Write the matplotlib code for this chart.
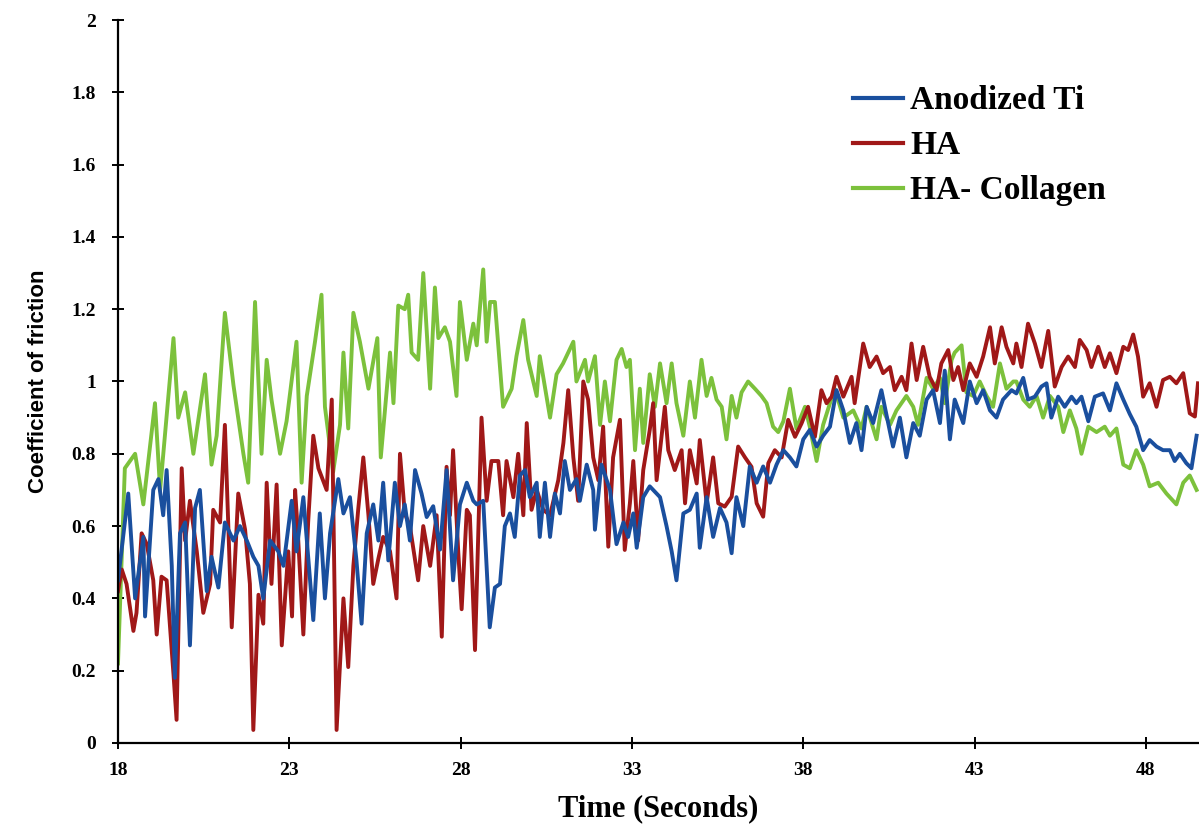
import matplotlib.pyplot as plt
from matplotlib.lines import Line2D

plt.rcParams['font.family'] = ['Liberation Serif', 'DejaVu Serif']

# HA- Collagen (green)
t_col = [18.0, 18.2, 18.5, 18.74, 19.08, 19.23, 19.62, 19.76, 19.96, 20.2, 20.54, 20.73, 20.88,
         21.12, 21.37, 21.66, 21.8, 22.0, 22.19, 22.34, 22.48, 22.73, 22.92, 23.21, 23.36, 23.51,
         23.75, 23.94, 24.04, 24.28, 24.48, 24.58, 24.72, 24.87, 25.06, 25.31, 25.57, 25.67, 25.94,
         26.04, 26.18, 26.37, 26.47, 26.57, 26.76, 26.91, 27.11, 27.25, 27.35, 27.54, 27.69, 27.88,
         27.98, 28.18, 28.37, 28.47, 28.66, 28.76, 28.86, 29.0, 29.24, 29.49, 29.63, 29.83, 29.97,
         30.22, 30.31, 30.61, 30.8, 30.99, 31.29, 31.38, 31.63, 31.72, 31.92, 32.07, 32.21, 32.36,
         32.55, 32.7, 32.84, 32.94, 33.09, 33.23, 33.33, 33.52, 33.67, 33.82, 34.01, 34.16, 34.3,
         34.5, 34.69, 34.84, 35.03, 35.18, 35.32, 35.47, 35.62, 35.76, 35.91, 36.05, 36.2, 36.39,
         36.59, 36.78, 36.93, 37.12, 37.27, 37.42, 37.61, 37.8, 38.05, 38.19, 38.39, 38.58, 38.78,
         38.92, 39.17, 39.46, 39.7, 39.85, 40.14, 40.28, 40.53, 40.72, 41.01, 41.21, 41.35, 41.6,
         41.79, 41.99, 42.13, 42.33, 42.42, 42.62, 42.76, 42.96, 43.15, 43.35, 43.54, 43.74, 43.93,
         44.13, 44.22, 44.42, 44.61, 44.81, 45.0, 45.2, 45.44, 45.59, 45.78, 45.97, 46.12, 46.32,
         46.56, 46.8, 46.95, 47.14, 47.34, 47.53, 47.72, 47.92, 48.11, 48.36, 48.6, 48.89, 49.09,
         49.28, 49.48]
cof_col = [0.22, 0.76, 0.80, 0.66, 0.94, 0.70, 1.12, 0.90, 0.97, 0.80, 1.02, 0.77, 0.85,
           1.19, 0.99, 0.80, 0.72, 1.22, 0.80, 1.06, 0.95, 0.80, 0.89, 1.11, 0.72, 0.96,
           1.11, 1.24, 0.93, 0.75, 0.88, 1.08, 0.87, 1.19, 1.11, 0.98, 1.12, 0.79, 1.08,
           0.94, 1.21, 1.20, 1.24, 1.08, 1.06, 1.30, 0.98, 1.26, 1.12, 1.15, 1.11, 0.96,
           1.22, 1.06, 1.16, 1.10, 1.31, 1.11, 1.22, 1.22, 0.93, 0.98, 1.07, 1.17, 1.06,
           0.96, 1.07, 0.90, 1.02, 1.05, 1.11, 1.00, 1.06, 1.00, 1.07, 0.88, 1.00, 0.89,
           1.06, 1.09, 1.04, 1.06, 0.81, 0.98, 0.83, 1.02, 0.93, 1.05, 0.94, 1.05, 0.94,
           0.85, 1.00, 0.90, 1.06, 0.96, 1.01, 0.95, 0.93, 0.84, 0.96, 0.90, 0.97, 1.00,
           0.98, 0.96, 0.94, 0.875, 0.86, 0.89, 0.98, 0.87, 0.93, 0.875, 0.78, 0.88, 0.94,
           0.98, 0.90, 0.92, 0.87, 0.93, 0.84, 0.93, 0.88, 0.92, 0.96, 0.93, 0.88, 1.01,
           0.98, 1.01, 0.94, 1.06, 1.08, 1.10, 0.97, 0.96, 1.00, 0.96, 0.93, 1.05, 0.98,
           1.00, 1.00, 0.95, 0.93, 0.96, 0.90, 0.96, 0.93, 0.86, 0.92, 0.87, 0.80, 0.875,
           0.86, 0.875, 0.85, 0.87, 0.77, 0.76, 0.81, 0.77, 0.71, 0.72, 0.69, 0.66, 0.72,
           0.74, 0.70]

# HA (red)
t_ha = [18.0, 18.11, 18.25, 18.45, 18.54, 18.69, 18.84, 19.03, 19.13, 19.27, 19.42, 19.62, 19.71,
        19.81, 19.86, 19.96, 20.1, 20.3, 20.49, 20.69, 20.78, 20.98, 21.12, 21.32, 21.51, 21.71,
        21.85, 21.95, 22.1, 22.24, 22.34, 22.48, 22.63, 22.78, 22.97, 23.08, 23.17, 23.25, 23.41,
        23.55, 23.7, 23.85, 24.09, 24.24, 24.38, 24.58, 24.72, 24.87, 25.01, 25.16, 25.31, 25.45,
        25.6, 25.74, 25.94, 26.13, 26.23, 26.37, 26.52, 26.76, 26.91, 27.11, 27.3, 27.45, 27.59,
        27.69, 27.78, 27.93, 28.03, 28.18, 28.27, 28.42, 28.61, 28.76, 28.9, 29.1, 29.24, 29.34,
        29.54, 29.68, 29.83, 29.93, 30.07, 30.22, 30.41, 30.61, 30.85, 31.0, 31.14, 31.29, 31.43,
        31.58, 31.72, 31.87, 32.02, 32.16, 32.31, 32.45, 32.65, 32.79, 32.94, 33.04, 33.18, 33.33,
        33.52, 33.62, 33.72, 33.82, 33.96, 34.06, 34.25, 34.45, 34.55, 34.69, 34.89, 34.98, 35.18,
        35.37, 35.52, 35.71, 35.91, 36.1, 36.3, 36.49, 36.64, 36.83, 36.98, 37.17, 37.37, 37.56,
        37.76, 37.95, 38.14, 38.34, 38.53, 38.68, 38.83, 38.97, 39.17, 39.41, 39.5, 39.75, 39.94,
        40.14, 40.33, 40.53, 40.67, 40.87, 41.01, 41.16, 41.31, 41.5, 41.69, 41.89, 42.03, 42.23,
        42.38, 42.52, 42.67, 42.86, 43.06, 43.25, 43.45, 43.59, 43.79, 43.93, 44.13, 44.22, 44.37,
        44.56, 44.76, 44.95, 45.15, 45.34, 45.54, 45.73, 45.93, 46.07, 46.27, 46.41, 46.61, 46.8,
        46.95, 47.14, 47.34, 47.48, 47.63, 47.77, 47.92, 48.11, 48.31, 48.5, 48.7, 48.89, 49.09,
        49.28, 49.43, 49.52]
cof_ha = [0.42, 0.48, 0.44, 0.31, 0.36, 0.58, 0.55, 0.45, 0.30, 0.46, 0.45, 0.19, 0.064,
          0.53, 0.76, 0.56, 0.67, 0.53, 0.36, 0.44, 0.645, 0.61, 0.88, 0.32, 0.69, 0.59,
          0.44, 0.036, 0.41, 0.33, 0.72, 0.44, 0.715, 0.27, 0.53, 0.35, 0.70, 0.58, 0.30,
          0.61, 0.85, 0.76, 0.70, 0.95, 0.036, 0.40, 0.21, 0.49, 0.645, 0.79, 0.63, 0.44,
          0.51, 0.57, 0.53, 0.40, 0.80, 0.635, 0.60, 0.45, 0.60, 0.49, 0.63, 0.294, 0.764,
          0.63, 0.81, 0.53, 0.37, 0.645, 0.63, 0.257, 0.90, 0.67, 0.78, 0.78, 0.63, 0.78,
          0.68, 0.80, 0.63, 0.885, 0.645, 0.70, 0.645, 0.63, 0.727, 0.83, 0.976, 0.79, 0.67,
          1.00, 0.95, 0.79, 0.727, 0.875, 0.543, 0.79, 0.894, 0.534, 0.663, 0.78, 0.56, 0.755,
          0.866, 0.94, 0.727, 0.81, 0.93, 0.81, 0.755, 0.81, 0.663, 0.81, 0.718, 0.838, 0.663,
          0.79, 0.663, 0.654, 0.681, 0.82, 0.79, 0.764, 0.663, 0.626, 0.774, 0.81, 0.79, 0.894,
          0.847, 0.884, 0.93, 0.847, 0.976, 0.94, 0.958, 1.013, 0.958, 1.013, 0.94, 1.105, 1.04,
          1.069, 1.023, 1.04, 0.976, 1.013, 0.976, 1.105, 1.004, 1.096, 1.013, 0.976, 1.05, 1.087,
          1.004, 1.04, 0.976, 1.05, 1.013, 1.069, 1.15, 1.05, 1.15, 1.096, 1.05, 1.105, 1.04,
          1.16, 1.105, 1.04, 1.14, 0.986, 1.04, 1.069, 1.04, 1.115, 1.087, 1.04, 1.096, 1.04,
          1.078, 1.023, 1.096, 1.087, 1.13, 1.069, 0.958, 0.995, 0.93, 1.004, 1.013, 0.995, 1.023,
          0.912, 0.903, 0.995]

# Anodized Ti (blue)
t_ti = [18.0, 18.3, 18.5, 18.74, 18.79, 19.03, 19.18, 19.32, 19.42, 19.57, 19.66, 19.81, 19.96,
        20.1, 20.25, 20.39, 20.59, 20.73, 20.93, 21.12, 21.37, 21.56, 21.76, 21.95, 22.1, 22.24,
        22.44, 22.68, 22.83, 23.07, 23.21, 23.41, 23.7, 23.89, 24.04, 24.19, 24.43, 24.58, 24.77,
        24.96, 25.11, 25.26, 25.45, 25.6, 25.74, 25.89, 26.08, 26.23, 26.37, 26.52, 26.67, 26.86,
        27.01, 27.2, 27.4, 27.59, 27.78, 27.98, 28.18, 28.37, 28.47, 28.66, 28.85, 29.0, 29.15,
        29.29, 29.44, 29.58, 29.73, 29.88, 30.02, 30.22, 30.31, 30.46, 30.61, 30.75, 30.9, 31.04,
        31.19, 31.38, 31.48, 31.68, 31.87, 31.92, 32.11, 32.36, 32.55, 32.75, 32.89, 33.04, 33.14,
        33.33, 33.52, 33.82, 34.01, 34.16, 34.3, 34.5, 34.69, 34.89, 34.98, 35.18, 35.37, 35.57,
        35.76, 35.91, 36.05, 36.25, 36.44, 36.64, 36.83, 37.03, 37.22, 37.42, 37.61, 37.8, 38.0,
        38.19, 38.39, 38.58, 38.78, 38.97, 39.17, 39.36, 39.55, 39.7, 39.85, 40.04, 40.28, 40.48,
        40.62, 40.82, 41.01, 41.21, 41.4, 41.6, 41.79, 41.99, 42.13, 42.28, 42.42, 42.67, 42.86,
        43.06, 43.25, 43.45, 43.64, 43.83, 44.08, 44.22, 44.42, 44.56, 44.76, 44.95, 45.1, 45.24,
        45.44, 45.63, 45.83, 45.97, 46.12, 46.32, 46.51, 46.75, 46.95, 47.14, 47.34, 47.53, 47.72,
        47.92, 48.11, 48.31, 48.5, 48.7, 48.84, 48.99, 49.18, 49.33, 49.48]
cof_ti = [0.45, 0.69, 0.40, 0.57, 0.35, 0.70, 0.73, 0.63, 0.755, 0.49, 0.18, 0.58, 0.61,
          0.27, 0.65, 0.70, 0.42, 0.515, 0.43, 0.61, 0.56, 0.60, 0.56, 0.515, 0.49, 0.40,
          0.56, 0.53, 0.49, 0.67, 0.53, 0.68, 0.34, 0.635, 0.40, 0.58, 0.73, 0.635, 0.68,
          0.505, 0.33, 0.58, 0.66, 0.56, 0.72, 0.505, 0.72, 0.60, 0.66, 0.56, 0.755, 0.69,
          0.625, 0.655, 0.535, 0.755, 0.45, 0.66, 0.72, 0.67, 0.66, 0.67, 0.32, 0.43, 0.44,
          0.60, 0.635, 0.57, 0.74, 0.755, 0.68, 0.72, 0.57, 0.72, 0.57, 0.69, 0.635, 0.78,
          0.70, 0.73, 0.67, 0.77, 0.70, 0.59, 0.77, 0.70, 0.55, 0.61, 0.57, 0.635, 0.54,
          0.68, 0.71, 0.68, 0.60, 0.53, 0.45, 0.635, 0.645, 0.69, 0.54, 0.68, 0.57, 0.65,
          0.61, 0.525, 0.68, 0.60, 0.765, 0.72, 0.765, 0.72, 0.77, 0.81, 0.79, 0.765, 0.84,
          0.866, 0.82, 0.85, 0.875, 0.976, 0.92, 0.83, 0.885, 0.81, 0.93, 0.885, 0.976, 0.885,
          0.82, 0.90, 0.79, 0.885, 0.85, 0.95, 0.976, 0.885, 1.03, 0.84, 0.95, 0.885, 1.00,
          0.94, 0.976, 0.92, 0.90, 0.95, 0.976, 0.967, 1.01, 0.95, 0.958, 0.986, 0.995, 0.90,
          0.958, 0.93, 0.958, 0.94, 0.958, 0.89, 0.958, 0.967, 0.92, 0.995, 0.95, 0.91, 0.875,
          0.81, 0.838, 0.82, 0.81, 0.81, 0.78, 0.80, 0.774, 0.76, 0.85]

labels = ['Anodized Ti', 'HA', 'HA- Collagen']
colors = ['#1a4f9e', '#a01818', '#7cc13c']
x_ticks = [18, 23, 28, 33, 38, 43, 48]
y_ticks = [0, 0.2, 0.4, 0.6, 0.8, 1, 1.2, 1.4, 1.6, 1.8, 2]

fig = plt.figure(figsize=(11.99, 8.27), dpi=100)
ax = fig.add_axes([0.0984, 0.1016, 0.9016, 0.8742])

ax.plot(t_col, cof_col, color=colors[2], lw=2.8)
ax.plot(t_ha, cof_ha, color=colors[1], lw=2.8)
ax.plot(t_ti, cof_ti, color=colors[0], lw=2.8)

ax.set_xlim(18, 49.55)
ax.set_ylim(0, 2)
ax.set_xticks(x_ticks)
ax.set_yticks(y_ticks)
ax.set_yticklabels(['{:g}'.format(v) for v in y_ticks])

for s in ['top', 'right']:
    ax.spines[s].set_visible(False)
for s in ['left', 'bottom']:
    ax.spines[s].set_linewidth(1.6)
ax.tick_params(axis='both', direction='inout', length=8, width=1.4, labelsize=14)
ax.tick_params(axis='x', pad=10)
ax.tick_params(axis='y', pad=12)
for lab in ax.get_xticklabels() + ax.get_yticklabels():
    lab.set_fontweight('bold')

ax.set_xlabel('Time (Seconds)', fontsize=22, fontweight='bold', labelpad=11)
ax.set_ylabel('Coefficient of friction', fontsize=16, fontweight='bold', labelpad=16,
              family=['Liberation Sans', 'DejaVu Sans'])

handles = [Line2D([], [], color=c, lw=3) for c in colors]
ax.legend(handles, labels, loc='upper left', bbox_to_anchor=(0.668, 0.928), frameon=False,
          prop={'size': 24, 'weight': 'bold'}, handlelength=1.5, handletextpad=0.2,
          labelspacing=0.42, borderaxespad=0)

fig.savefig('out.png', dpi=100)
